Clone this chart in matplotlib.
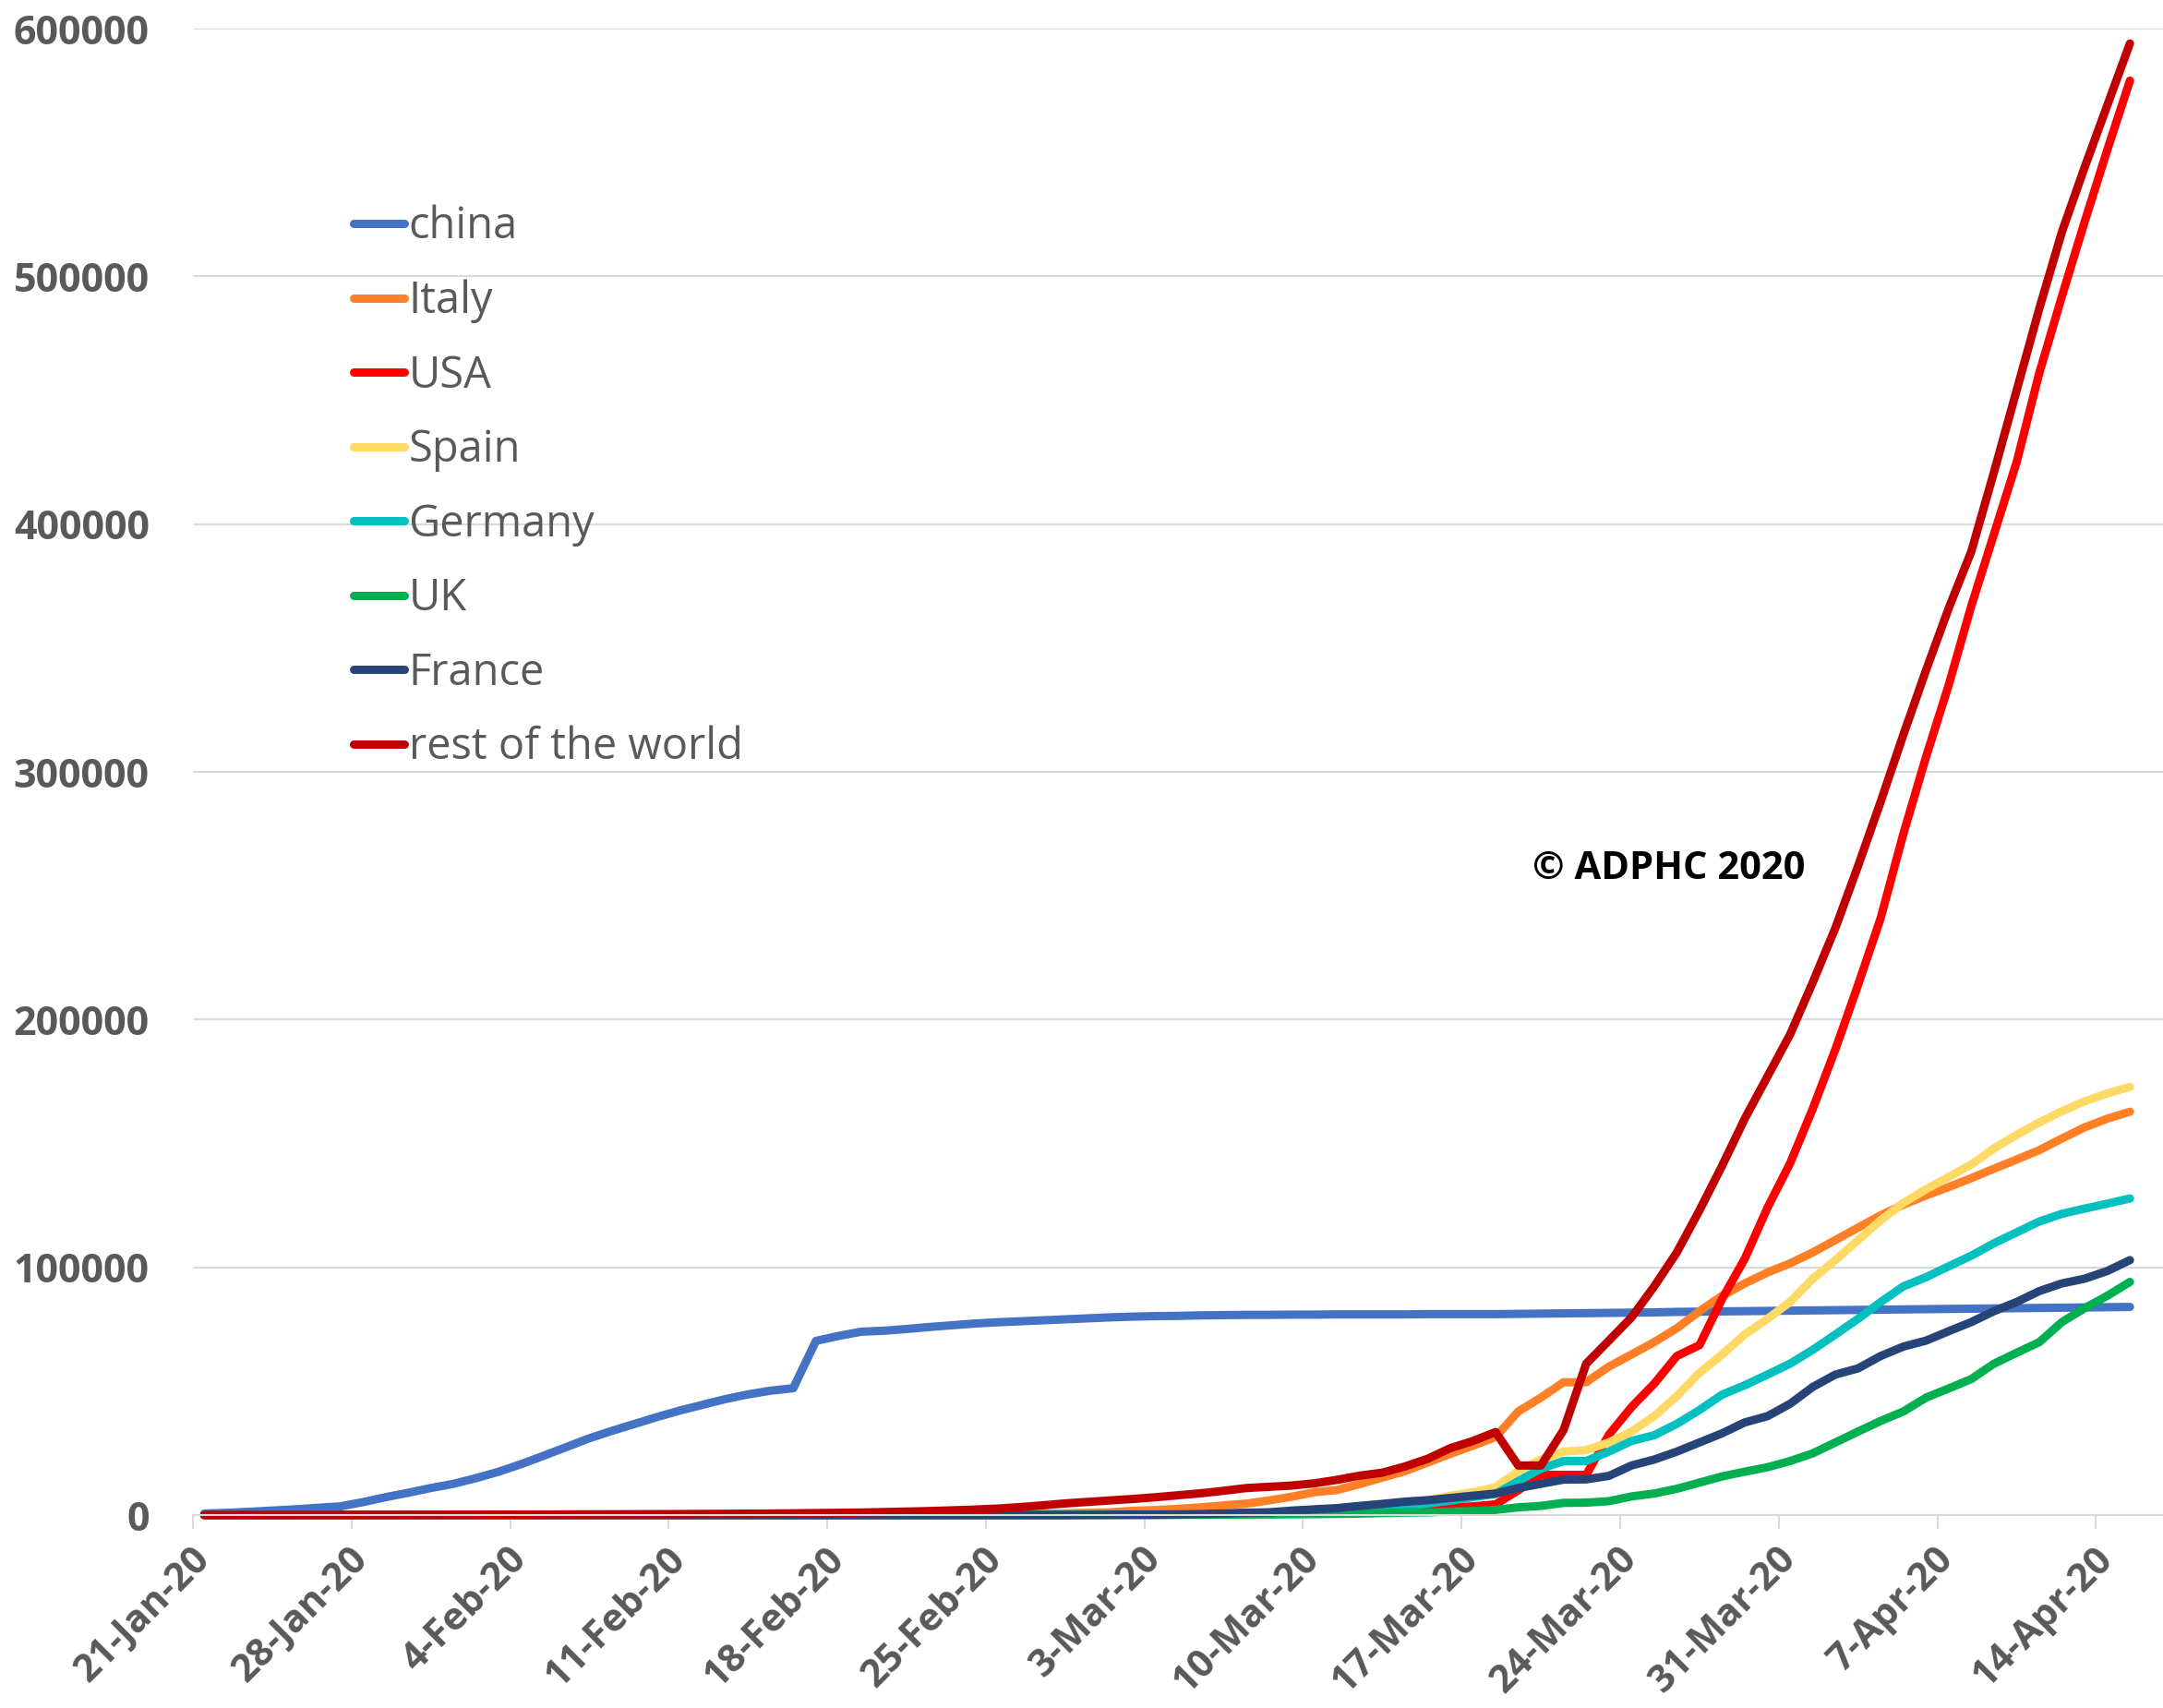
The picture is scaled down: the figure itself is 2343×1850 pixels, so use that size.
import numpy as np
import matplotlib
matplotlib.use('Agg')
import matplotlib.pyplot as plt
from matplotlib.transforms import ScaledTranslation

# cumulative confirmed cases, in thousands, one value per day from 21-Jan-20
china = [0.6, 0.9, 1.3, 1.8, 2.3, 2.9, 3.5, 5.2, 7.2, 9.0,
         10.9, 12.6, 14.9, 17.5, 20.6, 24.0, 27.5, 31.0, 34.0, 36.8,
         39.6, 42.2, 44.5, 46.8, 48.7, 50.2, 51.2, 70.3, 72.3, 74.0,
         74.4, 75.1, 75.9, 76.6, 77.3, 77.8, 78.2, 78.6, 79.0, 79.4,
         79.8, 80.1, 80.3, 80.4, 80.6, 80.7, 80.8, 80.8, 80.9, 80.9,
         81.0, 81.0, 81.0, 81.0, 81.1, 81.1, 81.1, 81.1, 81.2, 81.3,
         81.4, 81.5, 81.6, 81.7, 81.8, 82.0, 82.1, 82.2, 82.3, 82.4,
         82.5, 82.6, 82.7, 82.8, 82.9, 83.0, 83.1, 83.2, 83.3, 83.4,
         83.5, 83.6, 83.7, 83.8, 83.9, 84.0]
italy = [0.0] * 31 + [0.0, 0.02, 0.08, 0.15, 0.23, 0.32, 0.45, 0.65, 0.89,
         1.1, 1.7, 2.0, 2.5, 3.1, 3.9, 4.6, 5.9, 7.4, 9.2,
         10.1, 12.5, 15.1, 17.7, 21.2, 24.7, 28.0, 31.5, 41.8, 47.4,
         53.6, 53.6, 59.9, 64.8, 69.8, 75.4, 82.3, 88.5, 93.5, 97.9,
         101.6, 106.0, 111.0, 116.0, 121.0, 125.3, 129.0, 132.4, 136.0, 139.8,
         143.5, 147.3, 152.0, 156.5, 160.0, 162.8]
usa = [0.0] * 30 + [0.02, 0.02, 0.03, 0.04, 0.05, 0.05, 0.06, 0.06, 0.07, 0.08,
       0.1, 0.1, 0.12, 0.16, 0.22, 0.26, 0.4, 0.5, 0.6, 0.8,
       1.0, 1.3, 1.7, 2.2, 2.7, 3.0, 3.5, 4.3, 10.0, 16.2,
       16.2, 16.2, 32.4, 43.6, 53.0, 64.2, 68.6, 87.3, 103.5, 124.0,
       142.0, 164.0, 188.0, 214.0, 241.0, 275.0, 306.0, 335.0, 367.0, 396.0,
       425.0, 461.0, 492.0, 522.0, 551.0, 579.0]
spain = [0.0] * 39 + [0.05,
         0.08, 0.12, 0.17, 0.23, 0.37, 0.5, 0.67, 1.0, 1.6, 2.0,
         2.3, 2.6, 3.1, 4.2, 5.8, 7.8, 9.2, 11.2, 17.7, 22.4,
         25.6, 26.2, 29.3, 33.7, 39.9, 48.0, 57.4, 64.8, 72.9, 79.2,
         86.0, 95.4, 102.9, 111.0, 119.0, 126.0, 131.5, 136.5, 141.5, 148.0,
         153.5, 158.5, 163.0, 167.0, 170.2, 172.8]
germany = [0.0] * 39 + [0.02,
           0.05, 0.1, 0.16, 0.2, 0.26, 0.48, 0.67, 0.8, 1.0, 1.2,
           1.5, 1.9, 2.1, 3.7, 4.6, 5.8, 7.2, 8.5, 13.7, 18.7,
           21.8, 21.8, 25.6, 29.9, 32.2, 36.8, 42.4, 48.6, 52.4, 56.7,
           61.1, 66.7, 72.9, 79.2, 86.0, 92.3, 96.0, 100.4, 104.7, 109.7,
           114.1, 118.5, 121.6, 123.7, 125.7, 127.8]
uk = [0.0] * 39 + [0.02,
      0.04, 0.05, 0.05, 0.09, 0.12, 0.16, 0.21, 0.27, 0.32, 0.38,
      0.46, 0.59, 0.8, 1.0, 1.1, 1.4, 1.6, 2.1, 3.1, 3.7,
      4.9, 5.0, 5.6, 7.5, 8.7, 10.6, 13.1, 15.6, 17.5, 19.3,
      21.8, 24.9, 29.3, 33.7, 38.0, 41.8, 47.4, 51.1, 54.9, 61.1,
      65.5, 69.8, 77.9, 83.5, 88.5, 94.1]
france = [0.0] * 39 + [0.1,
          0.13, 0.19, 0.2, 0.29, 0.42, 0.65, 0.95, 1.1, 1.8, 2.3,
          2.8, 3.7, 4.5, 5.4, 6.0, 6.9, 7.8, 8.7, 10.9, 12.6,
          14.3, 14.4, 15.8, 20.0, 22.4, 25.6, 29.3, 33.0, 37.4, 39.9,
          44.9, 51.7, 56.7, 59.2, 64.2, 68.0, 70.4, 74.2, 77.9, 82.3,
          86.0, 90.4, 93.5, 95.4, 98.5, 102.9]
rest = [0.0, 0.0, 0.01, 0.02, 0.03, 0.04, 0.05, 0.07, 0.08, 0.1,
        0.12, 0.14, 0.16, 0.18, 0.2, 0.22, 0.25, 0.28, 0.3, 0.33,
        0.36, 0.4, 0.45, 0.5, 0.55, 0.6, 0.7, 0.8, 0.9, 1.0,
        1.2, 1.4, 1.6, 1.9, 2.2, 2.6, 3.2, 3.9, 4.7, 5.3,
        5.9, 6.5, 7.2, 8.0, 8.8, 9.8, 10.9, 11.4, 11.9, 12.8,
        14.2, 15.9, 17.1, 19.6, 22.7, 27.0, 29.9, 33.5, 20.0, 20.0,
        34.3, 61.1, 70.4, 79.8, 92.3, 106.0, 123.0, 141.0, 160.0, 177.0,
        194.0, 215.0, 237.0, 262.0, 288.0, 315.0, 341.0, 366.0, 389.0, 421.0,
        454.0, 487.0, 518.0, 544.0, 569.0, 594.0]

names = ['china', 'Italy', 'USA', 'Spain', 'Germany', 'UK', 'France', 'rest of the world']
colors = ['#4472C4', '#FF7F27', '#FF0000', '#FFD966', '#00C0C0', '#00B050', '#264478', '#C00000']
tick_labels = ['21-Jan-20', '28-Jan-20', '4-Feb-20', '11-Feb-20', '18-Feb-20', '25-Feb-20',
               '3-Mar-20', '10-Mar-20', '17-Mar-20', '24-Mar-20', '31-Mar-20', '7-Apr-20', '14-Apr-20']

plt.rcParams['font.family'] = ['Open Sans', 'DejaVu Sans']
grey = '#595959'
light = '#D9D9D9'

W, H = 2343, 1850
fig = plt.figure(figsize=(W / 100, H / 100), dpi=100)
ax = fig.add_axes([209 / W, (H - 1641) / H, (W - 209) / W, (1641 - 31) / H])

days = np.arange(len(china)) + 0.5  # points sit in the middle of each day
for name, vals, col in zip(names, [china, italy, usa, spain, germany, uk, france, rest], colors):
    ax.plot(days, np.array(vals) * 1000, color=col, lw=6.5, label=name,
            solid_capstyle='round', solid_joinstyle='round', clip_on=False)

ax.set_xlim(0, (W - 209) / 24.54)
ax.set_ylim(0, 600000)
ax.set_yticks(range(0, 600001, 100000))
ax.yaxis.grid(True, color=light, lw=1.5)
ax.set_axisbelow(True)
for s in ['top', 'right', 'left']:
    ax.spines[s].set_visible(False)
ax.spines['bottom'].set_color(light)
ax.spines['bottom'].set_linewidth(1.5)

ax.tick_params(axis='y', length=0, pad=34, labelsize=31, labelcolor=grey)
for t in ax.get_yticklabels():
    t.set_fontweight('bold')

ax.set_xticks(np.arange(0, 85, 7))
ax.set_xticklabels(tick_labels, rotation=45, ha='right', va='center', rotation_mode='anchor',
                   fontsize=30, fontweight='bold', color=grey)
ax.tick_params(axis='x', length=11, width=1.5, color=light, pad=19)
shift = ScaledTranslation(12 / 100, 0, fig.dpi_scale_trans)
for t in ax.get_xticklabels():
    t.set_transform(t.get_transform() + shift)

leg = ax.legend(loc='upper left', bbox_to_anchor=(383 / W, 1 - 222 / H), bbox_transform=fig.transFigure,
                frameon=False, fontsize=33.8, handlelength=1.17, handletextpad=0.1,
                labelspacing=0.704, borderpad=0, borderaxespad=0)
for t in leg.get_texts():
    t.set_color(grey)

fig.text(1808 / W, 1 - 942 / H, '© ADPHC 2020', ha='center', va='center',
         fontsize=30, fontweight='bold', color='black')

fig.savefig('out.png', dpi=100)
